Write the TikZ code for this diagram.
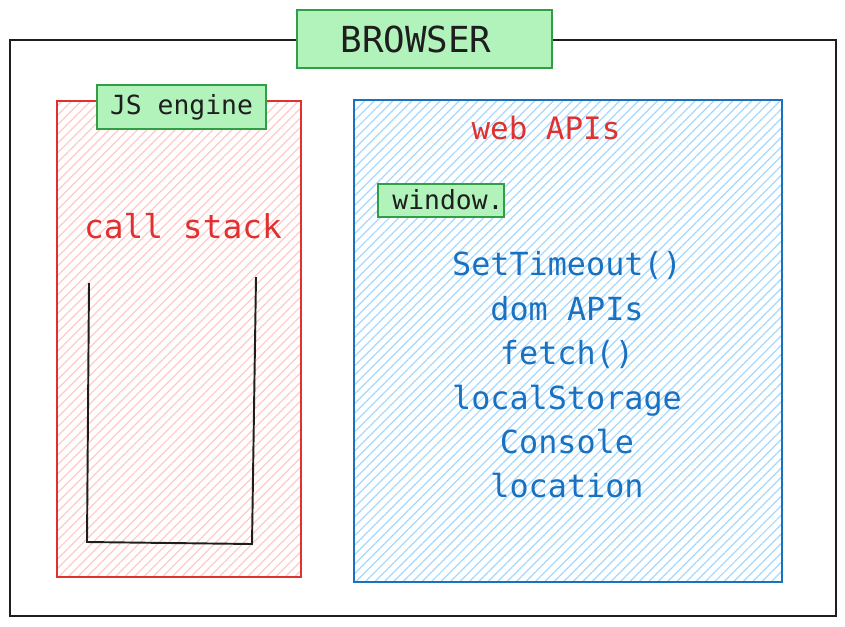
\documentclass[tikz,border=0pt]{standalone}
\usepackage{fontspec}
\setmonofont{DejaVu Sans Mono}
\usetikzlibrary{patterns.meta}
\definecolor{inkBlack}{RGB}{30,30,30}
\definecolor{engineRed}{RGB}{224,49,49}
\definecolor{hatchRed}{RGB}{255,201,201}
\definecolor{apiBlue}{RGB}{25,113,194}
\definecolor{hatchBlue}{RGB}{165,216,255}
\definecolor{tagGreen}{RGB}{178,242,187}
\definecolor{tagEdge}{RGB}{47,158,68}

\begin{document}
\begin{tikzpicture}[x=0.02cm, y=-0.02cm, font=\ttfamily,
    frame/.style={draw, line width=1.1pt, rectangle, inner sep=0pt},
    tag/.style={draw=tagEdge, fill=tagGreen, line width=1.1pt, rectangle, inner sep=0pt},
    hatched/.style={pattern={Lines[angle=45, distance=3.8pt, line width=0.7pt]}, pattern color=#1},
    apiline/.style={text=apiBlue, font=\fontsize{18.1}{20}\ttfamily, text height=1.6ex, text depth=0.3ex}]
    \useasboundingbox (0,0) rectangle (845,626);

    % outer browser frame and its title
    \node[frame, draw=inkBlack, minimum width=826*0.02cm, minimum height=576*0.02cm] (browser) at (423,328) {};
    \node[tag, minimum width=255*0.02cm, minimum height=58*0.02cm] (browsertag) at (424.5,39) {};
    \node[text=inkBlack, font=\fontsize{20.4}{22}\ttfamily] (browsertxt) at (416,39) {BROWSER};

    % JS engine
    \node[frame, draw=engineRed, hatched=hatchRed, minimum width=244*0.02cm, minimum height=476*0.02cm] (engine) at (179,339) {};
    \node[tag, minimum width=169*0.02cm, minimum height=44*0.02cm, text=inkBlack, font=\fontsize{15}{17}\ttfamily] (enginetag) at (181.5,107) {JS engine};
    \node[text=engineRed, font=\fontsize{18.7}{20}\ttfamily] (callstack) at (183,226) {call stack};
    \draw[inkBlack, line width=1.1pt] (89,283) -- (87,542) -- (252,544) -- (256,277);

    % web APIs
    \node[frame, draw=apiBlue, hatched=hatchBlue, minimum width=428*0.02cm, minimum height=482*0.02cm] (webapis) at (568,341) {};
    \node[text=engineRed, font=\fontsize{17.6}{19}\ttfamily] (webtitle) at (546,128) {web APIs};
    \node[tag, minimum width=126*0.02cm, minimum height=33*0.02cm] (windowtag) at (441,200.5) {};
    \node[text=inkBlack, font=\fontsize{15}{17}\ttfamily] (windowtxt) at (448,200) {window.};
    \foreach \api [count=\i from 0] in {SetTimeout(), dom APIs, fetch(), localStorage, Console, location}
      \node[apiline] (api\i) at (567,271+44.4*\i) {\api};
\end{tikzpicture}
\end{document}
